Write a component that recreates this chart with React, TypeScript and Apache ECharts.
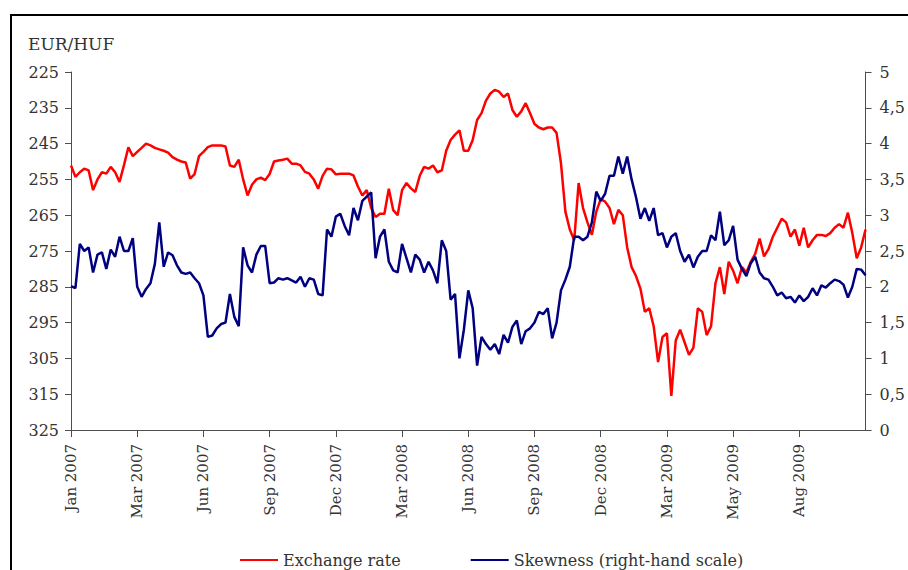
import React, { useEffect, useRef } from "react";
import * as echarts from "echarts";

// Tick labels of the category (trading-day) axis, one every POINTS_PER_TICK points
const xTickLabels = [
  "Jan 2007", "Mar 2007", "Jun 2007", "Sep 2007", "Dec 2007", "Mar 2008",
  "Jun 2008", "Sep 2008", "Dec 2008", "Mar 2009", "May 2009", "Aug 2009",
];
const POINTS_PER_TICK = 15;

const leftTicks = [225, 235, 245, 255, 265, 275, 285, 295, 305, 315, 325];
const rightTicks = [0, 0.5, 1, 1.5, 2, 2.5, 3, 3.5, 4, 4.5, 5];

// EUR/HUF exchange rate (left, inverted scale)
const exchangeRate = [
  251.1, 254.3, 253, 252, 252.5, 258, 255, 253, 253.4, 251.5,
  253, 255.7, 251, 246, 248.5, 247.3, 246.2, 245, 245.5, 246.2,
  246.6, 247, 247.5, 248.8, 249.5, 250, 250.3, 254.8, 253.5, 248.5,
  247.3, 246, 245.5, 245.5, 245.5, 245.8, 251.1, 251.5, 249.5, 255,
  259.5, 256.5, 255, 254.5, 255.2, 253.5, 250, 249.7, 249.5, 249.2,
  250.6, 250.6, 251.1, 252.9, 253.4, 255, 257.6, 254, 252, 252.2,
  253.6, 253.4, 253.4, 253.4, 253.9, 257, 259.5, 258, 263, 265.5,
  264.6, 264.6, 257.6, 263.6, 265, 258, 256, 257.5, 258.5, 254,
  251.5, 252, 251.1, 253, 252.5, 247, 244, 242.5, 241.3, 247,
  247, 244, 238.4, 236.5, 233, 231, 230, 230.5, 232, 231,
  235.6, 237.5, 236, 233.7, 236.5, 239.5, 240.5, 241, 240.5, 240.5,
  242, 250.5, 264, 269, 272, 256, 263, 267, 270.5, 264,
  260.5, 261.2, 263, 267.5, 263.5, 265, 274, 279.5, 282, 285.5,
  292, 291, 296, 306, 299, 298, 315.5, 300, 297, 300.5,
  304, 302, 291, 292, 298.5, 296, 284, 279.5, 287, 278,
  280.5, 284, 279.5, 281, 278, 275.8, 271.5, 276.5, 274.5, 271,
  268.5, 266, 267, 271, 269, 273.5, 268.5, 274, 272, 270.5,
  270.5, 270.8, 270, 268.5, 267.5, 268.5, 264.3, 270, 277, 274, 269,
];

// Skewness (right-hand scale)
const skewness = [
  2.01, 1.98, 2.6, 2.5, 2.55, 2.2, 2.45, 2.48, 2.25, 2.52,
  2.42, 2.7, 2.5, 2.5, 2.68, 2.0, 1.86, 1.97, 2.05, 2.32,
  2.9, 2.28, 2.48, 2.44, 2.3, 2.2, 2.18, 2.2, 2.12, 2.05,
  1.88, 1.3, 1.32, 1.42, 1.48, 1.5, 1.9, 1.58, 1.45, 2.55,
  2.3, 2.2, 2.45, 2.57, 2.57, 2.05, 2.06, 2.12, 2.1, 2.12,
  2.09, 2.06, 2.14, 2.0, 2.12, 2.1, 1.9, 1.88, 2.8, 2.7,
  2.98, 3.02, 2.85, 2.72, 3.1, 2.93, 3.2, 3.26, 3.32, 2.4,
  2.7, 2.8, 2.35, 2.23, 2.2, 2.6, 2.4, 2.2, 2.45, 2.38,
  2.2, 2.35, 2.23, 2.05, 2.65, 2.5, 1.82, 1.9, 1.0, 1.4,
  1.95, 1.7, 0.9, 1.3, 1.2, 1.12, 1.2, 1.06, 1.33, 1.22,
  1.44, 1.53, 1.2, 1.38, 1.42, 1.5, 1.65, 1.62, 1.7, 1.28,
  1.5, 1.95, 2.1, 2.28, 2.7, 2.7, 2.65, 2.7, 2.9, 3.33,
  3.2, 3.3, 3.55, 3.55, 3.82, 3.58, 3.82, 3.5, 3.25, 2.95,
  3.1, 2.92, 3.1, 2.72, 2.75, 2.55, 2.7, 2.75, 2.5, 2.35,
  2.45, 2.27, 2.42, 2.5, 2.5, 2.72, 2.65, 3.05, 2.58, 2.65,
  2.85, 2.38, 2.25, 2.15, 2.33, 2.42, 2.2, 2.12, 2.1, 2.0,
  1.88, 1.92, 1.84, 1.86, 1.78, 1.88, 1.8, 1.86, 1.98, 1.88,
  2.02, 1.99, 2.05, 2.1, 2.08, 2.03, 1.85, 2.0, 2.25, 2.24, 2.16,
];

const categories = exchangeRate.map((_, i) => String(i));

const FONT = "DejaVu Serif";
const TEXT = "#333333";
const AXIS = "#4d4d4d";

export default function App() {
  const ref = useRef<HTMLDivElement>(null);

  useEffect(() => {
    if (!ref.current) return;
    const chart = echarts.init(ref.current, undefined, { renderer: "svg" });
    const isTick = (i: number) =>
      i % POINTS_PER_TICK === 0 && i / POINTS_PER_TICK < xTickLabels.length;

    chart.setOption({
      animation: false,
      backgroundColor: "#ffffff",
      title: {
        text: "EUR/HUF",
        left: 23,
        top: 30,
        textStyle: { fontFamily: FONT, fontSize: 17, fontWeight: "normal", color: TEXT },
      },
      graphic: [
        {
          type: "rect",
          silent: true,
          shape: { x: 11, y: 15, width: 1000, height: 1000 },
          style: { fill: "none", stroke: "#000000", lineWidth: 2 },
        },
      ],
      legend: {
        left: 235,
        top: 547,
        itemWidth: 38,
        itemHeight: 2,
        itemGap: 70,
        icon: "rect",
        textStyle: { fontFamily: FONT, fontSize: 16, color: TEXT },
        data: ["Exchange rate", "Skewness (right-hand scale)"],
      },
      grid: { left: 71, right: 42, top: 72, bottom: 140, containLabel: false },
      xAxis: {
        type: "category",
        data: categories,
        boundaryGap: false,
        axisLine: { lineStyle: { color: AXIS, width: 1 } },
        axisTick: {
          show: true,
          length: 7,
          interval: (i: number) => isTick(i),
          lineStyle: { color: AXIS },
        },
        axisLabel: {
          interval: (i: number) => isTick(i),
          rotate: 90,
          margin: 14,
          fontFamily: FONT,
          fontSize: 15,
          color: TEXT,
          formatter: (_v: string, i: number) =>
            isTick(i) ? xTickLabels[i / POINTS_PER_TICK] : "",
        },
        splitLine: { show: false },
      },
      yAxis: [
        {
          type: "value",
          inverse: true,
          min: leftTicks[0],
          max: leftTicks[leftTicks.length - 1],
          interval: 10,
          axisLine: { show: true, lineStyle: { color: AXIS, width: 1 } },
          axisTick: { show: true, length: 6, customValues: leftTicks, lineStyle: { color: AXIS } },
          axisLabel: {
            customValues: leftTicks,
            margin: 12,
            fontFamily: FONT,
            fontSize: 16,
            color: TEXT,
          },
          splitLine: { show: false },
        },
        {
          type: "value",
          position: "right",
          min: rightTicks[0],
          max: rightTicks[rightTicks.length - 1],
          interval: 0.5,
          axisLine: { show: true, lineStyle: { color: AXIS, width: 1 } },
          axisTick: { show: true, length: 6, lineStyle: { color: AXIS } },
          axisLabel: {
            margin: 14,
            fontFamily: FONT,
            fontSize: 16,
            color: TEXT,
            formatter: (v: number) => String(v).replace(".", ","),
          },
          splitLine: { show: false },
        },
      ],
      series: [
        {
          name: "Exchange rate",
          type: "line",
          yAxisIndex: 0,
          data: exchangeRate,
          showSymbol: false,
          symbol: "none",
          lineStyle: { color: "#ff0000", width: 2.5 },
          itemStyle: { color: "#ff0000" },
        },
        {
          name: "Skewness (right-hand scale)",
          type: "line",
          yAxisIndex: 1,
          data: skewness,
          showSymbol: false,
          symbol: "none",
          lineStyle: { color: "#000080", width: 2.5 },
          itemStyle: { color: "#000080" },
        },
      ],
    });

    return () => chart.dispose();
  }, []);

  return (
    <div
      ref={ref}
      style={{ position: "fixed", left: 0, top: 0, width: 908, height: 570, background: "#fff" }}
    />
  );
}
